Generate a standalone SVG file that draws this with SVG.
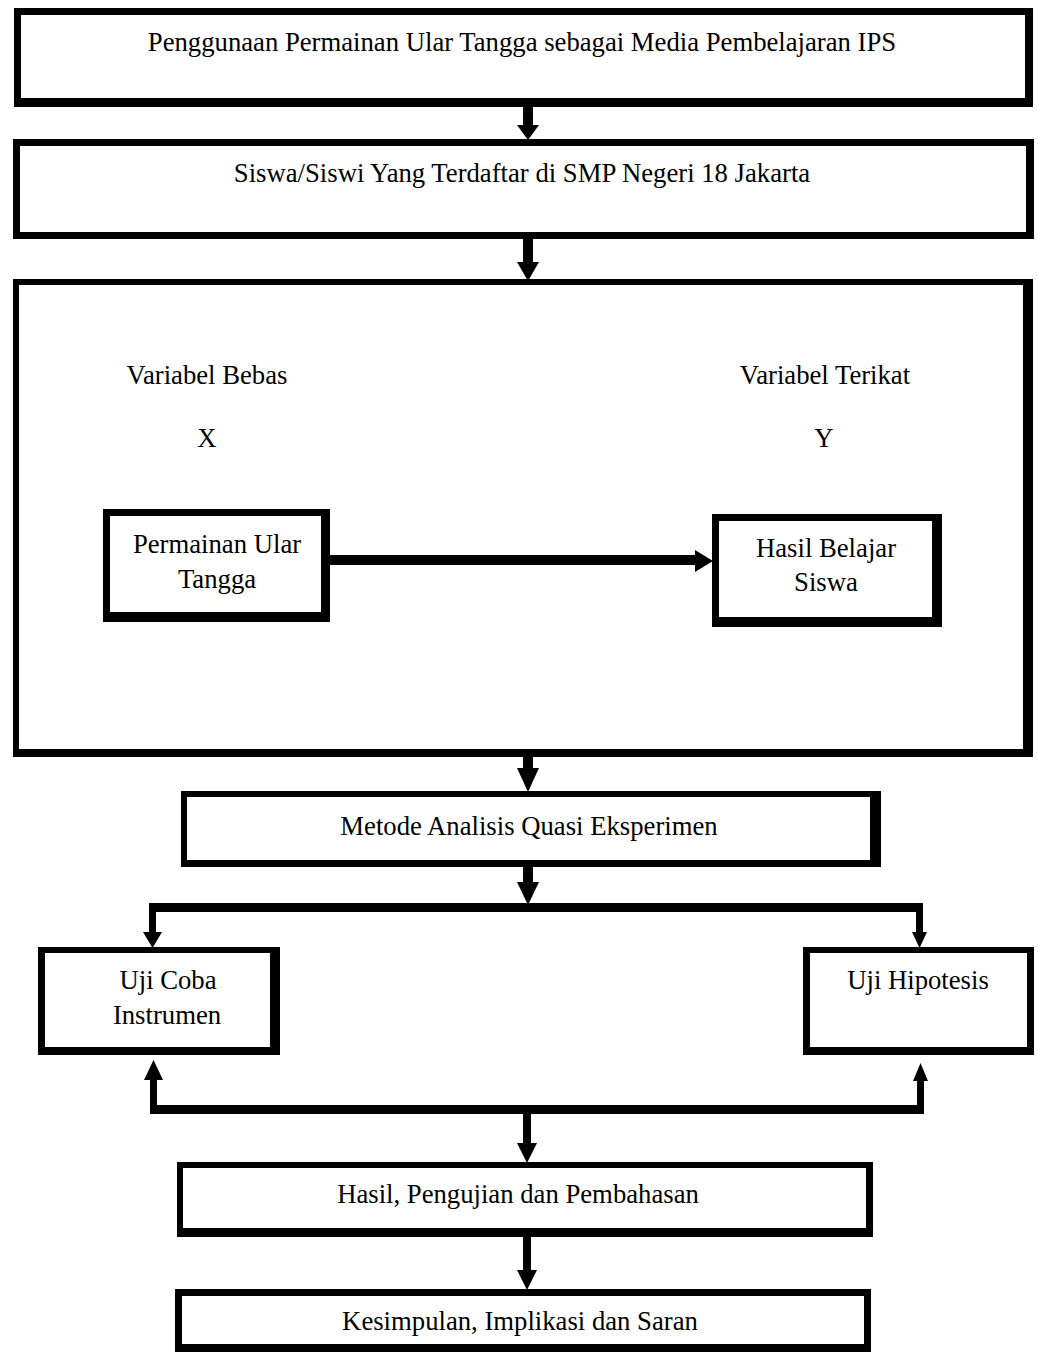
<svg xmlns="http://www.w3.org/2000/svg" width="1038" height="1358" viewBox="0 0 1038 1358">
<style>
.o{fill:#000}
.i{fill:#fff}
.t{font-family:"Liberation Serif","Times New Roman",serif;font-size:26.7px;fill:#000;text-anchor:middle}
.c{fill:#000}
</style>
<rect width="1038" height="1358" fill="#fff"/>
<g id="node-judul">
  <rect class="o" x="14" y="8" width="1019" height="99"/>
  <rect class="i" x="21" y="15" width="1004" height="83"/>
  <text class="t" x="522" y="51">Penggunaan Permainan Ular Tangga sebagai Media Pembelajaran IPS</text>
</g>
<g id="node-siswa">
  <rect class="o" x="13" y="139" width="1021" height="100"/>
  <rect class="i" x="20" y="146" width="1006" height="86"/>
  <text class="t" x="522" y="182">Siswa/Siswi Yang Terdaftar di SMP Negeri 18 Jakarta</text>
</g>
<g id="node-variabel">
  <rect class="o" x="13" y="279" width="1020" height="478"/>
  <rect class="i" x="19" y="285" width="1004" height="464"/>
  <text class="t" x="207" y="384">Variabel Bebas</text>
  <text class="t" x="825" y="384">Variabel Terikat</text>
  <text class="t" x="207" y="447">X</text>
  <text class="t" x="824" y="447">Y</text>
</g>
<g id="node-x">
  <rect class="o" x="103" y="509" width="227" height="113"/>
  <rect class="i" x="110" y="516" width="211" height="96"/>
  <text class="t" x="217" y="553">Permainan Ular</text>
  <text class="t" x="217" y="588">Tangga</text>
</g>
<g id="node-y">
  <rect class="o" x="712" y="514" width="230" height="113"/>
  <rect class="i" x="719" y="521" width="213" height="96"/>
  <text class="t" x="826" y="557">Hasil Belajar</text>
  <text class="t" x="826" y="591">Siswa</text>
</g>
<g id="node-metode">
  <rect class="o" x="181" y="791" width="700" height="76"/>
  <rect class="i" x="187" y="797" width="683" height="63"/>
  <text class="t" x="529" y="835">Metode Analisis Quasi Eksperimen</text>
</g>
<g id="node-ujicoba">
  <rect class="o" x="38" y="947" width="242" height="108"/>
  <rect class="i" x="45" y="953" width="225" height="94"/>
  <text class="t" x="168" y="989">Uji Coba</text>
  <text class="t" x="167" y="1024">Instrumen</text>
</g>
<g id="node-hipotesis">
  <rect class="o" x="803" y="947" width="231" height="108"/>
  <rect class="i" x="810" y="953" width="217" height="94"/>
  <text class="t" x="918" y="989">Uji Hipotesis</text>
</g>
<g id="node-hasil">
  <rect class="o" x="177" y="1162" width="696" height="75"/>
  <rect class="i" x="183" y="1168" width="683" height="60"/>
  <text class="t" x="518" y="1203">Hasil, Pengujian dan Pembahasan</text>
</g>
<g id="node-kesimpulan">
  <rect class="o" x="175" y="1289" width="696" height="63"/>
  <rect class="i" x="182" y="1296" width="682" height="48"/>
  <text class="t" x="520" y="1330">Kesimpulan, Implikasi dan Saran</text>
</g>
<g id="connectors">
  <rect class="c" x="523" y="105" width="10" height="22"/>
  <polygon class="c" points="517,125 539,125 528,140"/>
  <rect class="c" x="523" y="237" width="10" height="27"/>
  <polygon class="c" points="517,262 539,262 528,281"/>
  <rect class="c" x="328" y="555" width="369" height="10"/>
  <polygon class="c" points="695,550 695,572 713,561"/>
  <rect class="c" x="523" y="755" width="10" height="15"/>
  <polygon class="c" points="517,768 539,768 528,792"/>
  <rect class="c" x="523" y="865" width="10" height="19"/>
  <polygon class="c" points="517,882 539,882 528,905"/>
  <rect class="c" x="149" y="903" width="774" height="9"/>
  <rect class="c" x="149" y="903" width="7" height="31"/>
  <polygon class="c" points="143,932 162,932 152.5,948"/>
  <rect class="c" x="916" y="903" width="7" height="31"/>
  <polygon class="c" points="912,932 927,932 919.5,948"/>
  <rect class="c" x="150" y="1078" width="7" height="36"/>
  <polygon class="c" points="144,1080 163,1080 153.5,1060"/>
  <rect class="c" x="917" y="1080" width="7" height="34"/>
  <polygon class="c" points="913,1081 928,1081 920.5,1063"/>
  <rect class="c" x="150" y="1105" width="774" height="9"/>
  <rect class="c" x="523" y="1112" width="8" height="33"/>
  <polygon class="c" points="517,1143 537,1143 527,1163"/>
  <rect class="c" x="523" y="1235" width="8" height="37"/>
  <polygon class="c" points="517,1270 537,1270 527,1290"/>
</g>
</svg>
